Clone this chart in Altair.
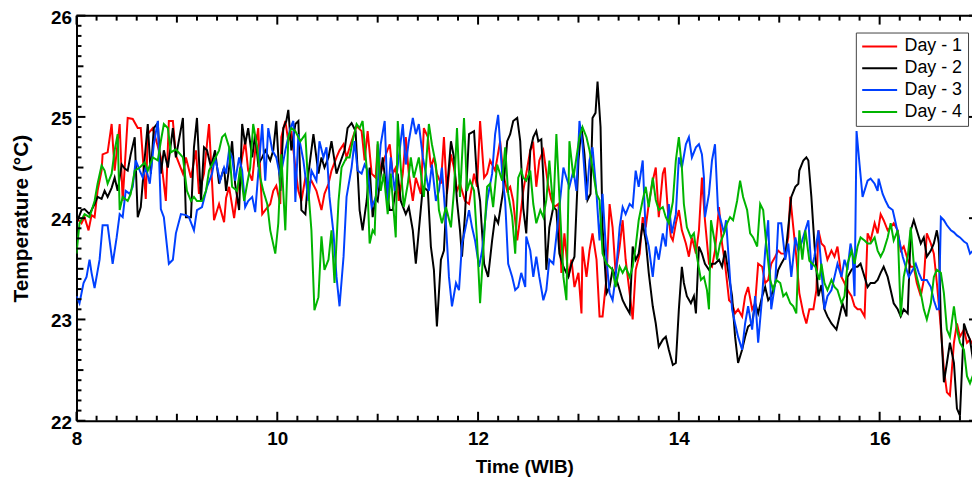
import altair as alt
import pandas as pd

# ---------------- data ----------------
series_names = ["Day - 1", "Day - 2", "Day - 3", "Day - 4"]
series_colors = ["#FF0000", "#000000", "#0040FF", "#00B400"]

day1_t = [8.00, 8.05, 8.08, 8.12, 8.15, 8.18, 8.21, 8.25, 8.26, 8.31, 8.35, 8.38, 8.43, 8.46, 8.51, 8.56, 8.61, 8.64, 8.69, 8.71,
          8.76, 8.84, 8.89, 8.92, 8.96, 8.99, 9.06, 9.09, 9.14, 9.19, 9.22, 9.27, 9.32, 9.37, 9.42, 9.47,
          9.49, 9.52, 9.57, 9.60, 9.65, 9.68, 9.71, 9.75, 9.78, 9.81, 9.85, 9.88, 9.93, 9.96, 9.99, 10.03, 10.04, 10.08, 10.11,
          10.14, 10.18, 10.21, 10.24, 10.28, 10.31, 10.34, 10.39, 10.44, 10.47, 10.51, 10.54, 10.59, 10.62, 10.66, 10.69,
          10.74, 10.79, 10.84, 10.87, 10.90, 10.94, 10.98,
          11.00, 11.03, 11.07, 11.12, 11.15, 11.18, 11.21, 11.25, 11.28, 11.31, 11.35, 11.38, 11.43, 11.46, 11.50, 11.53,
          11.56, 11.59, 11.63, 11.66, 11.69, 11.73, 11.76, 11.79, 11.82, 11.87, 11.91, 11.96, 11.99, 12.02, 12.06, 12.09,
          12.12, 12.17, 12.22, 12.25, 12.29, 12.32, 12.35, 12.39, 12.42, 12.45,
          12.48, 12.52, 12.55, 12.58, 12.61, 12.65, 12.70, 12.73, 12.76, 12.80, 12.83, 12.86, 12.90, 12.93, 12.96, 13.00,
          13.03, 13.04, 13.08, 13.11, 13.14, 13.18, 13.21, 13.24, 13.28, 13.31, 13.34, 13.37, 13.41, 13.44, 13.47, 13.51,
          13.54, 13.57, 13.61, 13.64, 13.67, 13.70, 13.74, 13.77, 13.80, 13.84, 13.86, 13.89, 13.92,
          13.94, 13.97, 14.00, 14.03, 14.07, 14.10, 14.13, 14.17, 14.20, 14.23, 14.26, 14.30, 14.33, 14.36, 14.40, 14.43,
          14.46, 14.50, 14.53, 14.56, 14.59, 14.63, 14.66, 14.69, 14.73, 14.76, 14.79, 14.83, 14.86, 14.89, 14.92, 14.96,
          14.99, 15.02, 15.06, 15.09, 15.11, 15.14, 15.17, 15.20, 15.24, 15.27, 15.30, 15.34, 15.37, 15.39, 15.42,
          15.45, 15.48, 15.52, 15.55, 15.58, 15.62, 15.65, 15.68, 15.72, 15.75, 15.78, 15.81, 15.85, 15.88, 15.91, 15.95,
          15.98, 16.01, 16.04, 16.08, 16.11, 16.14, 16.18, 16.21, 16.24, 16.28, 16.31, 16.34, 16.37, 16.41, 16.44, 16.47,
          16.51, 16.54, 16.57, 16.60, 16.64, 16.67, 16.70, 16.74, 16.77, 16.80, 16.84, 16.87, 16.90, 16.93]
day1_v = [24.00, 23.95, 24.01, 23.88, 24.03, 24.01, 24.27, 24.47, 24.63, 24.65, 24.93, 24.47, 24.93, 24.17, 24.99, 24.98, 24.89, 24.89, 24.19, 24.83,
          24.89, 24.60, 24.17, 24.96, 24.96, 24.62, 24.44, 24.60, 24.40, 24.67, 24.24, 24.44, 24.93, 23.98, 24.14, 23.96,
          24.20, 24.31, 24.00, 24.24, 24.60, 24.76, 24.47, 24.37, 24.67, 24.89, 24.04, 24.08, 24.14, 24.27, 24.32, 24.14, 24.80, 24.96, 24.76,
          24.86, 24.50, 24.27, 24.17, 24.40, 24.34, 24.37, 24.27, 24.08, 24.24, 24.34, 24.47, 24.60, 24.67, 24.73, 24.60,
          24.76, 24.91, 24.86, 24.57, 24.86, 24.44, 24.40,
          24.73, 24.44, 24.60, 24.73, 24.44, 24.50, 24.17, 24.44, 24.80, 24.44, 24.17, 24.40, 24.24, 24.89, 24.80, 24.50,
          24.60, 24.44, 24.34, 24.80, 24.24, 24.63, 24.50, 24.27, 24.34, 24.17, 24.14, 24.44, 24.31, 24.96, 24.40, 24.44,
          24.57, 24.47, 24.76, 24.44, 24.27, 24.31, 24.17, 23.78, 24.01, 24.27,
          24.44, 24.67, 24.73, 24.31, 24.57, 24.67, 24.31, 24.18, 24.11, 24.14, 23.46, 23.85, 23.42, 23.59, 23.32, 23.46,
          23.06, 23.72, 23.42, 23.68, 23.85, 23.59, 23.03, 23.03, 23.42, 24.14, 23.91, 23.46, 23.72, 23.98, 23.59, 23.26,
          23.00, 23.49, 23.65, 24.01, 23.91, 24.14, 24.37, 24.50, 24.01, 24.44, 24.50, 24.08, 23.82,
          23.78, 23.95, 24.08, 23.88, 23.75, 23.62, 23.81, 23.65, 23.88, 24.40, 23.98, 23.55, 23.52, 23.68, 24.11, 23.75,
          23.55, 23.19, 23.16, 23.06, 23.10, 23.03, 23.23, 23.32, 23.10, 23.16, 23.55, 23.52, 23.36, 23.39, 23.55, 23.62,
          23.68, 23.65, 23.65, 23.81, 24.21, 23.91, 23.62, 23.26, 23.06, 22.96, 23.10, 23.10, 23.29, 23.88, 23.75,
          23.72, 23.59, 23.68, 23.62, 23.72, 23.42, 23.36, 23.29, 23.23, 23.13, 23.10, 23.10, 23.03, 23.85, 23.78, 23.95,
          23.85, 24.04, 23.98, 23.88, 23.91, 23.95, 23.88, 23.68, 23.72, 23.59, 23.52, 23.52, 23.36, 23.23, 23.39, 23.85,
          23.75, 23.65, 23.36, 23.03, 22.51, 22.28, 22.25, 22.77, 22.96, 22.83, 22.90, 22.77, 22.80, 22.75]

day2_t = [8.00, 8.05, 8.08, 8.13, 8.18, 8.21, 8.25, 8.28, 8.31, 8.35, 8.38, 8.41, 8.45, 8.48, 8.51, 8.54, 8.58, 8.61, 8.64, 8.68,
          8.71, 8.74, 8.77, 8.81, 8.84, 8.87, 8.91, 8.96, 8.99, 9.06, 9.09, 9.14, 9.17, 9.20, 9.24, 9.27, 9.30, 9.34, 9.38,
          9.42, 9.47,
          9.49, 9.52, 9.55, 9.58, 9.62, 9.65, 9.68, 9.71, 9.75, 9.78, 9.81, 9.85, 9.88, 9.93, 9.96, 9.99, 10.03, 10.06, 10.09,
          10.11, 10.14, 10.18, 10.21, 10.24, 10.28, 10.31, 10.36, 10.41, 10.44, 10.47, 10.51, 10.54, 10.59, 10.62, 10.67,
          10.70, 10.74, 10.78, 10.82, 10.85, 10.89, 10.92, 10.95, 10.98,
          11.00, 11.05, 11.08, 11.12, 11.15, 11.20, 11.23, 11.28, 11.31, 11.35, 11.38, 11.41, 11.45, 11.50, 11.53, 11.56,
          11.59, 11.63, 11.66, 11.69, 11.73, 11.76, 11.79, 11.82, 11.84, 11.87, 11.91, 11.96, 11.99, 12.02, 12.06, 12.10,
          12.14, 12.17, 12.20, 12.25, 12.29, 12.32, 12.35, 12.39, 12.42, 12.45,
          12.48, 12.52, 12.55, 12.58, 12.60, 12.63, 12.65, 12.68, 12.71, 12.75, 12.78, 12.81, 12.85, 12.90, 12.93, 12.96,
          13.00, 13.03, 13.06, 13.09, 13.12, 13.14, 13.17, 13.19, 13.22, 13.24, 13.28, 13.31, 13.34, 13.37, 13.41, 13.44,
          13.47, 13.51, 13.54, 13.57, 13.60, 13.64, 13.67, 13.70, 13.74, 13.77, 13.80, 13.84, 13.87, 13.90, 13.94,
          13.97, 14.00, 14.03, 14.05, 14.08, 14.12, 14.15, 14.17, 14.20, 14.23, 14.26, 14.30, 14.33, 14.36, 14.40, 14.43,
          14.46, 14.50, 14.53, 14.56, 14.59, 14.63, 14.66, 14.69, 14.73, 14.76, 14.79, 14.83, 14.86, 14.89, 14.92, 14.96,
          14.99, 15.02, 15.06, 15.09, 15.12, 15.16, 15.19, 15.20, 15.24, 15.27, 15.29, 15.32, 15.35, 15.39, 15.42,
          15.45, 15.48, 15.52, 15.57, 15.60, 15.63, 15.67, 15.68, 15.72, 15.75, 15.78, 15.81, 15.85, 15.88, 15.91, 15.95,
          15.98, 16.01, 16.04, 16.08, 16.11, 16.14, 16.18, 16.21, 16.24, 16.28, 16.31, 16.34, 16.37, 16.41, 16.44, 16.47,
          16.51, 16.54, 16.57, 16.59, 16.61, 16.64, 16.67, 16.70, 16.74, 16.77, 16.80, 16.84, 16.87, 16.90, 16.93]
day2_v = [23.95, 24.08, 24.09, 24.04, 24.14, 24.21, 24.19, 24.27, 24.21, 24.30, 24.40, 24.27, 24.53, 24.49, 24.47, 24.63, 24.80, 24.01, 24.11, 24.60,
          24.93, 24.44, 24.89, 24.94, 24.44, 24.67, 24.50, 24.89, 24.60, 24.99, 24.01, 24.01, 24.70, 24.99, 24.17, 24.70, 24.67, 24.50, 24.67,
          24.34, 24.50,
          24.27, 24.50, 24.76, 24.34, 24.08, 24.93, 24.73, 24.89, 24.60, 24.83, 24.53, 24.60, 24.67, 24.57, 24.67, 24.96, 24.27, 24.89, 24.96,
          25.07, 24.67, 24.93, 24.96, 24.08, 24.04, 24.44, 24.83, 24.44, 24.60, 24.50, 24.60, 24.76, 24.44, 24.53, 24.67,
          24.89, 24.94, 24.86, 24.08, 23.88, 24.17, 24.50, 24.01, 24.20,
          24.17, 24.60, 24.34, 24.08, 24.08, 24.44, 24.17, 24.04, 24.11, 23.88, 23.55, 23.88, 24.31, 24.27, 23.72, 23.49,
          22.93, 23.59, 23.68, 24.27, 24.76, 24.60, 24.17, 23.88, 23.62, 24.04, 24.83, 24.86, 24.37, 24.17, 23.55, 23.42,
          23.78, 24.01, 23.95, 24.27, 24.76, 24.83, 24.96, 24.99, 24.76, 24.10,
          23.85, 24.67, 24.80, 24.86, 24.76, 24.78, 24.40, 23.49, 23.91, 24.11, 24.08, 23.65, 23.52, 23.42, 23.55, 23.62,
          24.57, 24.90, 24.63, 24.18, 24.24, 24.99, 25.04, 25.35, 24.90, 23.91, 23.26, 23.32, 23.49, 23.42, 23.29, 23.19,
          23.13, 23.06, 23.72, 23.59, 23.65, 23.95, 23.78, 23.46, 23.13, 22.96, 22.73, 22.80, 22.83, 22.70, 22.55,
          22.57, 23.10, 23.52, 23.36, 23.23, 23.16, 23.23, 23.06, 23.72, 23.65, 23.55, 23.49, 23.55, 23.55, 23.59, 23.52,
          23.68, 23.42, 23.23, 22.83, 22.57, 22.70, 22.83, 22.93, 22.96, 23.16, 23.06, 23.23, 23.32, 23.19, 23.23, 23.36,
          23.49, 23.55, 23.62, 23.91, 24.21, 24.31, 24.34, 24.47, 24.57, 24.60, 24.57, 24.21, 23.75, 23.23, 23.34,
          23.10, 23.03, 22.96, 22.90, 23.03, 23.16, 23.03, 23.42, 23.49, 23.52, 23.52, 23.55, 23.42, 23.32, 23.36, 23.36,
          23.39, 23.46, 23.52, 23.42, 23.29, 23.16, 23.10, 23.03, 23.10, 23.06, 23.88, 23.98, 23.88, 23.75, 23.81, 23.62,
          23.68, 23.75, 23.88, 23.75, 22.96, 22.38, 22.57, 22.77, 22.57, 22.12, 22.05, 22.96, 22.87, 22.80, 22.60]

day3_t = [8.00, 8.03, 8.07, 8.10, 8.13, 8.15, 8.18, 8.23, 8.26, 8.31, 8.36, 8.40, 8.43, 8.46, 8.49, 8.53, 8.56, 8.59, 8.63, 8.66,
          8.69, 8.73, 8.77, 8.81, 8.84, 8.87, 8.92, 8.96, 8.99, 9.04, 9.09, 9.12, 9.17, 9.20, 9.25, 9.30, 9.35, 9.38, 9.43, 9.47,
          9.49, 9.52, 9.55, 9.58, 9.62, 9.65, 9.68, 9.71, 9.75, 9.78, 9.81, 9.85, 9.88, 9.91, 9.95, 9.99, 10.03, 10.08, 10.13,
          10.16, 10.18, 10.21, 10.26, 10.31, 10.34, 10.39, 10.42, 10.46, 10.49, 10.52, 10.56, 10.59, 10.62, 10.66, 10.69,
          10.74, 10.77, 10.80, 10.84, 10.87, 10.90, 10.94, 10.98,
          11.00, 11.03, 11.07, 11.10, 11.13, 11.17, 11.21, 11.25, 11.28, 11.31, 11.35, 11.38, 11.41, 11.45, 11.48, 11.51,
          11.54, 11.58, 11.61, 11.64, 11.68, 11.71, 11.74, 11.78, 11.81, 11.84, 11.87, 11.91, 11.94, 11.97, 12.01, 12.04,
          12.09, 12.14, 12.17, 12.20, 12.24, 12.27, 12.30, 12.34, 12.37, 12.40, 12.43, 12.47,
          12.48, 12.52, 12.55, 12.58, 12.61, 12.65, 12.68, 12.71, 12.75, 12.78, 12.81, 12.85, 12.88, 12.91, 12.95, 12.98,
          13.01, 13.04, 13.08, 13.11, 13.14, 13.18, 13.21, 13.24, 13.28, 13.31, 13.34, 13.37, 13.41, 13.44, 13.47, 13.51,
          13.54, 13.57, 13.60, 13.64, 13.67, 13.70, 13.74, 13.77, 13.80, 13.84, 13.87, 13.90, 13.93,
          13.97, 14.00, 14.03, 14.07, 14.10, 14.13, 14.17, 14.20, 14.23, 14.25, 14.26, 14.30, 14.33, 14.36, 14.39, 14.41,
          14.45, 14.47, 14.50, 14.53, 14.56, 14.59, 14.63, 14.66, 14.69, 14.73, 14.76, 14.79, 14.83, 14.86, 14.89, 14.92,
          14.96, 14.99, 15.02, 15.06, 15.09, 15.12, 15.16, 15.19, 15.22, 15.25, 15.29, 15.32, 15.35, 15.39, 15.42,
          15.45, 15.48, 15.52, 15.55, 15.58, 15.62, 15.65, 15.68, 15.71, 15.73, 15.75, 15.76, 15.77, 15.80, 15.83, 15.88,
          15.91, 15.95, 15.98, 15.99, 16.03, 16.06, 16.09, 16.13, 16.16, 16.19, 16.23, 16.26, 16.29, 16.33, 16.36, 16.39,
          16.42, 16.47, 16.51, 16.54, 16.57, 16.59, 16.61, 16.64, 16.67, 16.71, 16.74, 16.77, 16.80, 16.84, 16.87, 16.90, 16.93]
day3_v = [23.23, 23.16, 23.36, 23.42, 23.59, 23.46, 23.31, 23.59, 23.93, 23.93, 23.55, 23.81, 24.04, 24.01, 24.27, 24.24, 24.31, 24.57, 24.47, 24.40,
          24.50, 24.34, 24.73, 24.96, 24.09, 24.01, 23.55, 23.59, 23.85, 24.04, 24.03, 24.01, 23.88, 24.08, 24.11, 24.31, 24.44, 24.60, 24.37, 24.50,
          24.44, 24.67, 24.60, 24.37, 24.60, 24.47, 24.11, 24.17, 24.21, 24.06, 24.44, 24.93, 24.37, 24.89, 24.67, 24.60, 24.40, 24.67, 24.89,
          24.96, 24.16, 24.83, 24.57, 24.17, 24.47, 24.37, 24.76, 24.60, 24.70, 24.21, 23.85, 23.42, 23.13, 23.62, 24.21,
          24.50, 24.76, 24.47, 24.44, 24.53, 24.47, 24.11, 24.20,
          24.34, 24.73, 24.96, 24.17, 24.60, 24.27, 24.60, 24.93, 24.53, 24.76, 24.99, 24.83, 24.93, 24.60, 24.44, 24.27,
          24.53, 24.17, 24.27, 24.50, 23.95, 23.42, 23.13, 23.36, 23.29, 23.75, 23.88, 24.08, 23.91, 23.78, 23.52, 23.68,
          24.17, 24.44, 24.83, 25.02, 24.44, 24.17, 23.55, 23.42, 23.29, 23.32, 23.46, 23.32,
          23.82, 23.68, 23.42, 23.62, 23.42, 23.19, 23.29, 23.59, 23.55, 23.82, 24.11, 24.50, 24.40, 24.31, 24.47, 24.27,
          24.96, 24.73, 24.18, 24.57, 24.70, 24.24, 23.78, 24.24, 23.59, 23.26, 23.19, 23.42, 23.91, 24.11, 24.04, 24.14,
          24.11, 24.47, 24.31, 24.57, 23.85, 23.72, 23.42, 23.72, 23.59, 23.85, 23.72, 24.14, 23.85,
          24.04, 24.60, 24.50, 24.73, 24.80, 24.60, 24.70, 24.73, 24.63, 24.40, 24.01, 24.24, 24.57, 24.73, 24.08, 24.01,
          23.85, 23.98, 23.55, 23.10, 22.96, 22.83, 22.70, 22.96, 23.13, 22.90, 23.23, 22.77, 23.23, 23.68, 23.98, 23.10,
          23.36, 23.95, 23.95, 23.59, 23.75, 23.42, 23.81, 23.68, 23.75, 23.85, 23.98, 23.49, 23.62, 23.88, 23.50,
          23.10, 23.23, 23.29, 23.42, 23.55, 23.42, 23.59, 23.49, 23.75, 23.65, 23.23, 24.01, 24.86, 24.53, 24.21, 24.37,
          24.39, 24.34, 24.27, 24.39, 24.24, 24.17, 24.11, 24.08, 23.95, 23.81, 23.62, 23.52, 23.42, 23.49, 23.55, 23.46,
          23.39, 23.39, 23.32, 23.19, 23.10, 23.10, 24.01, 23.98, 23.93, 23.88, 23.86, 23.83, 23.81, 23.77, 23.75, 23.65, 23.68]

day4_t = [8.00, 8.03, 8.08, 8.13, 8.18, 8.21, 8.25, 8.28, 8.31, 8.35, 8.38, 8.41, 8.43, 8.46, 8.51, 8.54, 8.58, 8.63, 8.68, 8.71,
          8.76, 8.81, 8.84, 8.87, 8.91, 8.94, 8.99, 9.06, 9.10, 9.14, 9.17, 9.20, 9.25, 9.29, 9.32, 9.37, 9.42, 9.45, 9.48,
          9.52, 9.55, 9.60, 9.63, 9.67, 9.70, 9.73, 9.76, 9.80, 9.83, 9.86, 9.90, 9.93, 9.98, 10.01, 10.04, 10.08, 10.11,
          10.14, 10.18, 10.23, 10.28, 10.31, 10.34, 10.37, 10.41, 10.44, 10.47, 10.51, 10.54, 10.57, 10.61, 10.64, 10.69,
          10.72, 10.75, 10.79, 10.82, 10.85, 10.89, 10.92, 10.95, 10.97,
          11.00, 11.03, 11.06, 11.10, 11.13, 11.18, 11.20, 11.23, 11.26, 11.30, 11.33, 11.36, 11.41, 11.46, 11.51, 11.54,
          11.58, 11.61, 11.64, 11.68, 11.73, 11.76, 11.79, 11.82, 11.86, 11.89, 11.92, 11.96, 11.99, 12.02, 12.06, 12.09,
          12.12, 12.15, 12.19, 12.24, 12.27, 12.30, 12.34, 12.37, 12.40, 12.43,
          12.45, 12.48, 12.52, 12.55, 12.58, 12.62, 12.65, 12.68, 12.71, 12.75, 12.78, 12.81, 12.85, 12.88, 12.91, 12.95,
          12.98, 13.01, 13.04, 13.08, 13.11, 13.14, 13.18, 13.21, 13.24, 13.28, 13.31, 13.34, 13.37, 13.41, 13.44, 13.47,
          13.51, 13.54, 13.57, 13.60, 13.64, 13.67, 13.70, 13.74, 13.77, 13.80, 13.84, 13.87, 13.90, 13.94,
          13.97, 14.00, 14.03, 14.05, 14.08, 14.12, 14.15, 14.18, 14.22, 14.25, 14.28, 14.30, 14.32, 14.36, 14.38, 14.41,
          14.45, 14.48, 14.51, 14.54, 14.58, 14.61, 14.64, 14.68, 14.71, 14.74, 14.78, 14.81, 14.84, 14.87, 14.91, 14.94,
          14.97, 15.01, 15.04, 15.07, 15.11, 15.14, 15.17, 15.20, 15.23, 15.26, 15.30, 15.33, 15.36, 15.40, 15.42,
          15.45, 15.48, 15.52, 15.55, 15.58, 15.62, 15.65, 15.68, 15.72, 15.75, 15.78, 15.81, 15.85, 15.88, 15.91, 15.95,
          15.98, 16.01, 16.04, 16.08, 16.11, 16.14, 16.18, 16.21, 16.24, 16.28, 16.31, 16.34, 16.37, 16.41, 16.44, 16.47,
          16.51, 16.54, 16.57, 16.61, 16.64, 16.67, 16.70, 16.74, 16.77, 16.80, 16.84, 16.87, 16.90, 16.93]
day4_v = [23.65, 23.95, 24.04, 24.01, 24.17, 24.34, 24.52, 24.47, 24.34, 24.44, 24.67, 24.83, 24.08, 24.21, 24.17, 24.24, 24.47, 24.50, 24.55, 24.47,
          24.60, 24.57, 24.76, 24.93, 24.89, 24.65, 24.68, 24.60, 24.27, 24.17, 24.21, 24.17, 24.17, 24.27, 24.47, 24.57, 24.67, 24.80, 24.83,
          24.70, 24.31, 24.27, 24.50, 24.17, 24.34, 24.50, 24.93, 24.70, 24.40, 24.27, 24.14, 23.88, 23.65, 23.95, 24.63, 23.88, 24.80,
          24.89, 24.86, 24.76, 24.83, 24.27, 23.88, 23.09, 23.22, 23.82, 23.49, 23.59, 23.88, 23.36, 24.17, 24.50, 24.60,
          24.60, 24.76, 24.93, 24.89, 24.96, 24.50, 23.75, 23.88, 23.85,
          24.76, 24.27, 24.44, 24.04, 24.44, 23.81, 24.96, 24.50, 24.11, 24.34, 24.60, 24.40, 24.60, 24.21, 24.93, 24.73,
          24.53, 24.08, 23.95, 24.11, 23.91, 24.27, 24.89, 24.21, 24.99, 24.27, 24.37, 24.27, 23.78, 23.16, 23.81, 24.31,
          24.34, 24.11, 24.53, 24.37, 24.70, 24.24, 24.01, 23.65, 24.40, 24.47,
          24.40, 24.37, 24.47, 24.14, 23.95, 24.08, 24.01, 24.18, 24.57, 24.08, 24.83, 24.21, 23.42, 23.19, 24.76, 24.40,
          24.60, 24.80, 24.90, 24.80, 24.67, 24.50, 24.24, 24.18, 23.65, 23.55, 23.52, 23.49, 23.32, 23.52, 23.46, 23.52,
          23.42, 23.52, 23.72, 23.98, 24.18, 24.31, 24.11, 24.40, 24.18, 24.08, 24.11, 24.01, 23.95, 24.16,
          24.57, 24.80, 24.50, 24.14, 23.91, 23.81, 23.85, 23.62, 23.39, 23.42, 23.29, 23.10, 23.98, 23.75, 23.59, 23.75,
          23.85, 23.95, 24.01, 23.98, 24.17, 24.37, 24.21, 24.08, 23.85, 23.81, 23.72, 24.14, 24.08, 23.75, 23.39, 23.29,
          23.39, 23.36, 23.23, 23.26, 23.16, 23.13, 23.06, 23.88, 23.59, 23.88, 23.58, 23.55, 23.52, 23.39, 23.55,
          23.36, 23.29, 23.39, 23.32, 23.29, 23.16, 23.23, 23.55, 23.68, 23.55, 23.72, 23.81, 23.78, 23.75, 23.75, 23.81,
          23.68, 23.62, 23.68, 23.81, 23.95, 23.78, 23.88, 23.03, 23.42, 23.62, 23.91, 23.55, 23.42, 23.26, 23.10, 23.00,
          23.16, 23.42, 23.49, 23.46, 23.26, 22.90, 22.83, 23.13, 22.90, 22.77, 22.70, 22.44, 22.37, 22.45]

x_label_values = [8, 10, 12, 14, 16]
y_label_values = [22, 23, 24, 25, 26]
x_mid_ticks = [9, 11, 13, 15]
y_mid_ticks = [22.5, 23.5, 24.5, 25.5]
x_minor_ticks = [round(8 + 0.2 * i, 1) for i in range(45) if i % 5 != 0]
y_minor_ticks = [round(22 + 0.1 * i, 1) for i in range(41) if i % 5 != 0]

# ---------------- build table ----------------
rows = []
for name, ts, vs in zip(series_names, [day1_t, day2_t, day3_t, day4_t], [day1_v, day2_v, day3_v, day4_v]):
    for t, v in zip(ts, vs):
        rows.append({"Time": t, "Temp": v, "Series": name})
df = pd.DataFrame(rows)

W, H = 902, 408
FONT = "Liberation Sans"

x_scale = alt.Scale(domain=[8, 16.92], nice=False, zero=False)
y_scale = alt.Scale(domain=[22, 26], nice=False, zero=False)

x_axis = alt.Axis(values=x_label_values, title="Time (WIB)", grid=False, ticks=False, tickSize=0,
                  domain=True, domainColor="black", domainWidth=2, labelFont=FONT, labelFontSize=19,
                  labelFontWeight="bold", labelColor="black", labelPadding=9, labelFlush=False,
                  titleFont=FONT, titleFontSize=19, titleFontWeight="bold", titleColor="black",
                  titlePadding=9, format="d")
y_axis = alt.Axis(values=y_label_values, title="Temperature (°C)", grid=False, ticks=False, tickSize=0,
                  domain=True, domainColor="black", domainWidth=2, labelFont=FONT, labelFontSize=19,
                  labelFontWeight="bold", labelColor="black", labelPadding=5, labelFlush=False,
                  labelOffset=1.5,
                  titleFont=FONT, titleFontSize=21, titleFontWeight="bold", titleColor="black",
                  titlePadding=19, format="d")

lines = alt.Chart(df).mark_line(strokeWidth=2, clip=True).encode(
    x=alt.X("Time:Q", scale=x_scale, axis=x_axis),
    y=alt.Y("Temp:Q", scale=y_scale, axis=y_axis),
    color=alt.Color("Series:N", scale=alt.Scale(domain=series_names, range=series_colors),
                    legend=alt.Legend(title=None, orient="none", legendX=785, legendY=17,
                                      fillColor="white", strokeColor="#444444", padding=5,
                                      symbolType="M-2.2,0H2.2", symbolSize=256, symbolStrokeWidth=2,
                                      symbolOffset=10, labelOffset=16, rowPadding=4,
                                      labelFont=FONT, labelFontSize=18, labelColor="black")),
    order=alt.Order("Time:Q"),
)


def x_ticks(vals, length, top):
    d = pd.DataFrame({"Time": vals})
    if top:
        ys = dict(y=alt.value(0), y2=alt.value(length))
    else:
        ys = dict(y=alt.value(H), y2=alt.value(H - length))
    return alt.Chart(d).mark_rule(color="black", strokeWidth=2).encode(
        x=alt.X("Time:Q", scale=x_scale, axis=x_axis), **ys)


def y_ticks(vals, x0, x1):
    d = pd.DataFrame({"Temp": vals})
    return alt.Chart(d).mark_rule(color="black", strokeWidth=2).encode(
        y=alt.Y("Temp:Q", scale=y_scale, axis=y_axis), x=alt.value(x0), x2=alt.value(x1))


top_line = alt.Chart(pd.DataFrame({"k": [0]})).mark_rule(color="black", strokeWidth=2).encode(
    x=alt.value(0), x2=alt.value(W), y=alt.value(0))

layers = [lines, top_line]
for top in (False, True):
    layers.append(x_ticks(x_label_values, 9, top))
    layers.append(x_ticks(x_mid_ticks, 7, top))
    layers.append(x_ticks(x_minor_ticks, 5, top))
layers.append(y_ticks(y_label_values, 0, 9))
layers.append(y_ticks(y_mid_ticks, 0, 7))
layers.append(y_ticks(y_minor_ticks, 0, 5))
layers.append(y_ticks(y_label_values, W - 3, W))  # inward ticks of the (cropped) right axis

chart = alt.layer(*layers).properties(
    width=W, height=H,
    autosize=alt.AutoSizeParams(type="none"),
    padding={"left": 69, "top": 6, "right": 0, "bottom": 57},
).configure_view(stroke=None).configure(background="white")

chart.save("out.html", embed_options={"renderer": "svg", "actions": False})
